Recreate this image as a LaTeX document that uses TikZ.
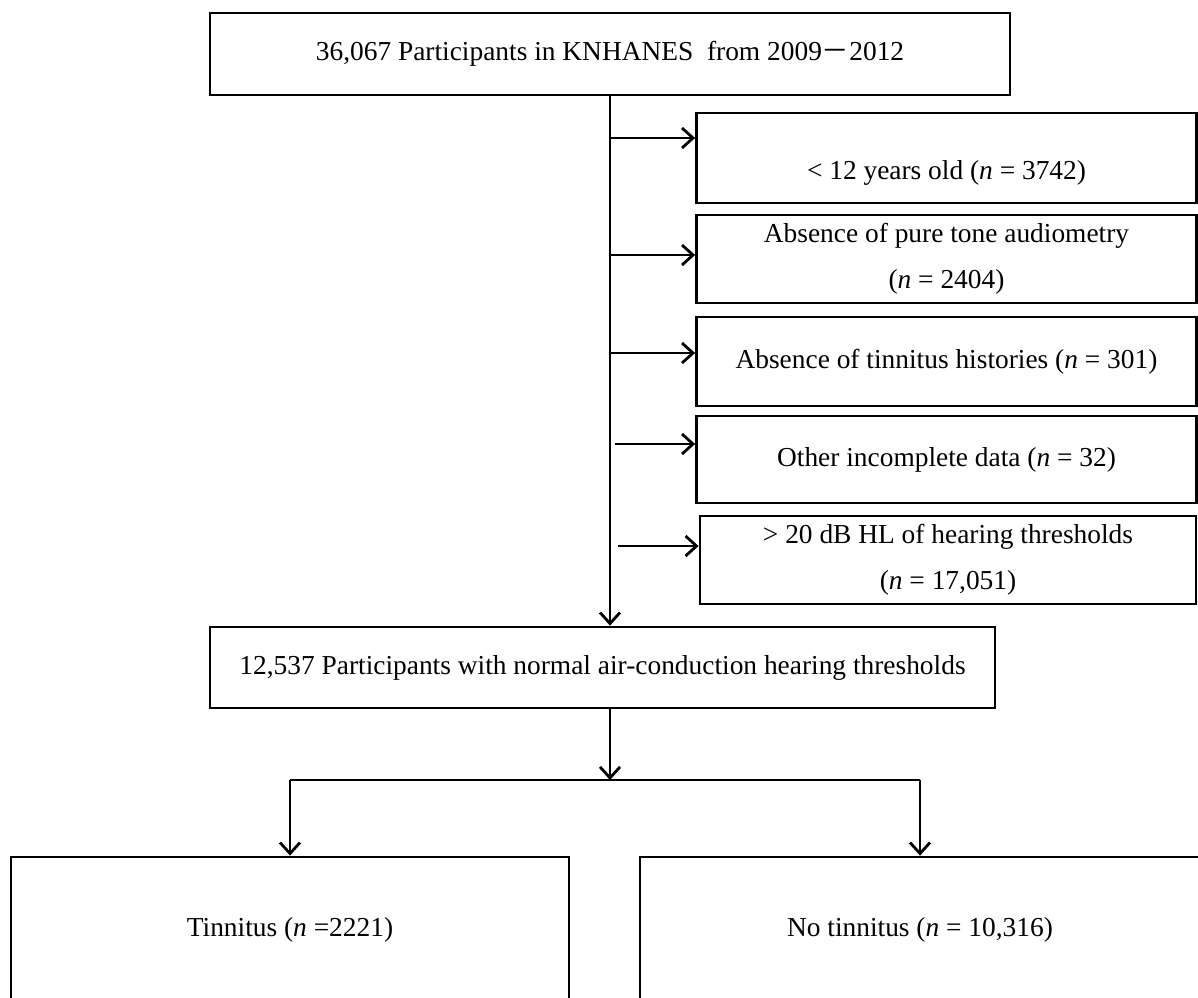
\documentclass[tikz,border=0pt]{standalone}
\usepackage{fontspec}
\setmainfont{Liberation Serif}
\newfontfamily\cjk{Noto Sans CJK SC}
\usetikzlibrary{arrows.meta}

\begin{document}
\begin{tikzpicture}[x=0.5pt,y=-0.5pt,
  box/.style={draw,line width=1.4pt,inner sep=0pt,align=center,
    font=\fontsize{13.7}{23}\selectfont},
  link/.style={line width=1.4pt},
  arr/.style={link,-{Straight Barb[length=5.5pt,width=10pt,line width=1.4pt]}}]
\useasboundingbox (0,0) rectangle (1198,997);

\node[box,minimum width=400pt,minimum height=41pt] (all) at (610,54)
  {36,067 Participants in KNHANES\ \ from 2009{\cjk －}2012};
\node[box,minimum width=250pt,minimum height=45pt,text height=24pt] (ex1) at (946.5,158)
  {< 12 years old (\textit{n} = 3742)};
\node[box,minimum width=250pt,minimum height=44pt] (ex2) at (946.5,259)
  {Absence of pure tone audiometry\\(\textit{n} = 2404)};
\node[box,minimum width=250pt,minimum height=44.5pt] (ex3) at (946.5,361.5)
  {Absence of tinnitus histories (\textit{n} = 301)};
\node[box,minimum width=250pt,minimum height=43.5pt] (ex4) at (946.5,459.5)
  {Other incomplete data (\textit{n} = 32)};
\node[box,minimum width=248pt,minimum height=44pt] (ex5) at (948,560)
  {> 20 dB HL of hearing thresholds\\(\textit{n} = 17,051)};
\node[box,minimum width=392.5pt,minimum height=40.5pt] (mid) at (602.5,667.5)
  {12,537 Participants with normal air-conduction hearing thresholds};
\node[box,minimum width=279pt,minimum height=73pt] (tin) at (290,930)
  {Tinnitus (\textit{n} =2221)};
\node[box,minimum width=280pt,minimum height=73pt] (notin) at (920,930)
  {No tinnitus (\textit{n} = 10,316)};

% exclusions
\coordinate (b1) at (610,138);
\coordinate (b2) at (610,255);
\coordinate (b3) at (610,353);
\coordinate (b4) at (615,444);
\coordinate (b5) at (618,546);
\draw[arr] (all.south) -- (all.south |- mid.north);
\draw[arr] (b1) -- (b1 -| ex1.west);
\draw[arr] (b2) -- (b2 -| ex2.west);
\draw[arr] (b3) -- (b3 -| ex3.west);
\draw[arr] (b4) -- (b4 -| ex4.west);
\draw[arr] (b5) -- (b5 -| ex5.west);

% split
\coordinate (split) at (610,780);
\draw[arr] (mid.south -| split) -- (split);
\draw[link] (split -| tin.north) -- (split -| notin.north);
\draw[arr] (split -| tin.north) -- (tin.north);
\draw[arr] (split -| notin.north) -- (notin.north);
\end{tikzpicture}
\end{document}
